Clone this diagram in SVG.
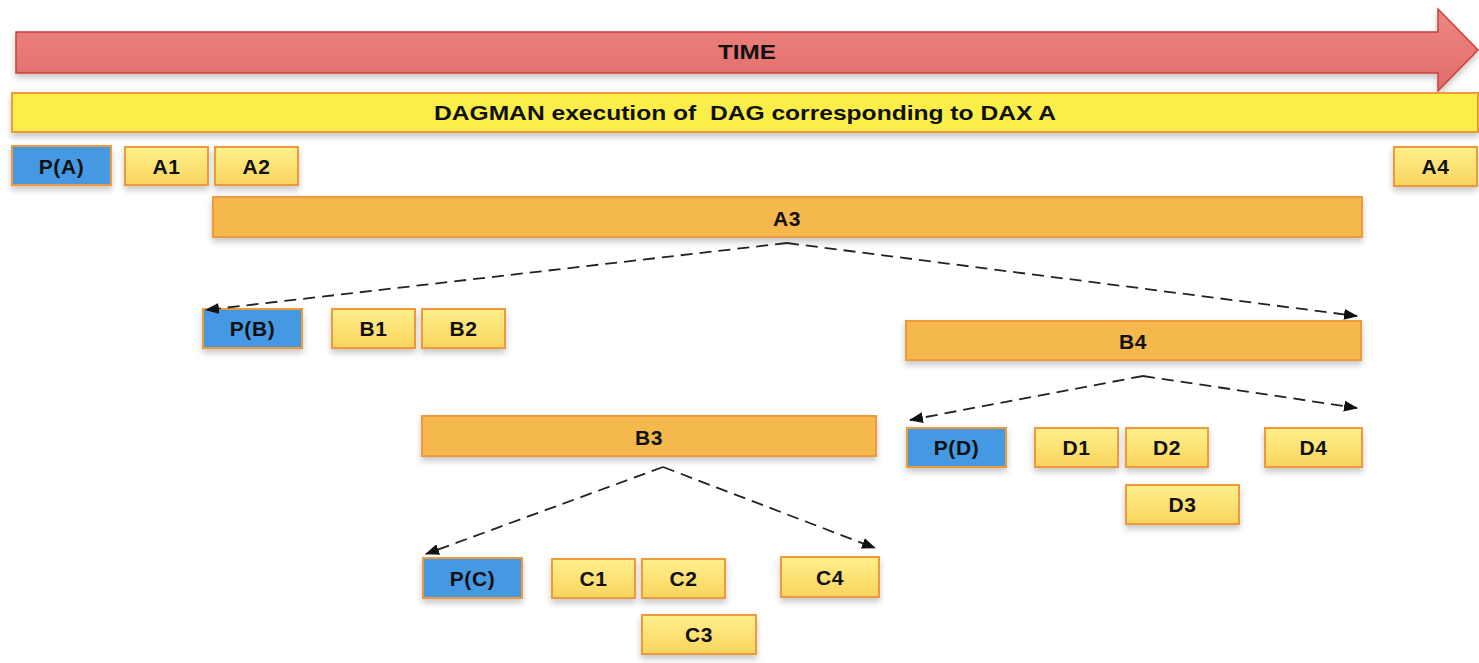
<svg xmlns="http://www.w3.org/2000/svg" width="1479" height="663" viewBox="0 0 1479 663">
  <defs>
    <linearGradient id="gTask" x1="0" y1="0" x2="0" y2="1">
      <stop offset="0" stop-color="#FFF08C"/>
      <stop offset="1" stop-color="#F9D45E"/>
    </linearGradient>
    <linearGradient id="gTime" x1="0" y1="0" x2="0" y2="1">
      <stop offset="0" stop-color="#EE8682"/>
      <stop offset="1" stop-color="#E06C68"/>
    </linearGradient>
    <filter id="shadow" x="-10%" y="-30%" width="120%" height="180%">
      <feDropShadow dx="0" dy="4" stdDeviation="3" flood-color="#000" flood-opacity="0.22"/>
    </filter>
    <marker id="arrow" markerWidth="14" markerHeight="11" refX="13" refY="5.5" orient="auto" markerUnits="userSpaceOnUse">
      <path d="M0,0 L14,5.5 L0,11 Z" fill="#111"/>
    </marker>
    <style>
      .lbl { font-family: "Liberation Sans", Arial, sans-serif; font-weight: bold; font-size: 21px; letter-spacing: 0.6px; fill: #111; text-anchor: middle; dominant-baseline: central; }
      .head { letter-spacing: 0; white-space: pre; }
      .task { fill: url(#gTask); stroke: #EE9A3A; stroke-width: 2; filter: url(#shadow); }
      .comp { fill: #F4B84E; stroke: #EE9A3A; stroke-width: 2; filter: url(#shadow); }
      .plan { fill: #4598E2; stroke: #EE9A3A; stroke-width: 2; filter: url(#shadow); }
      .edge { fill: none; stroke: #222; stroke-width: 1.8; stroke-dasharray: 12 7; marker-end: url(#arrow); }
    </style>
  </defs>
  <rect width="1479" height="663" fill="#fff"/>

  <!-- time axis -->
  <g id="time">
    <path d="M16,32 L1438,32 L1438,9 L1478,50 L1438,91 L1438,73 L16,73 Z" fill="url(#gTime)" stroke="#CC4038" stroke-width="1.5" filter="url(#shadow)"/>
    <text class="lbl head" x="747" y="51" textLength="58" lengthAdjust="spacingAndGlyphs">TIME</text>
  </g>

  <!-- top-level DAGMAN run -->
  <g id="dagman">
    <rect x="12" y="93" width="1466" height="39" fill="#FCEE48" stroke="#EE9A3A" stroke-width="2" filter="url(#shadow)"/>
    <text class="lbl head" x="745" y="112" textLength="622" lengthAdjust="spacingAndGlyphs" xml:space="preserve">DAGMAN execution of  DAG corresponding to DAX A</text>
  </g>

  <!-- workflow A -->
  <g id="PA"><rect class="plan" x="12" y="146" width="99" height="39"/><text class="lbl" x="61.5" y="166">P(A)</text></g>
  <g id="A1"><rect class="task" x="125" y="147" width="83" height="38"/><text class="lbl" x="166.5" y="166">A1</text></g>
  <g id="A2"><rect class="task" x="215" y="147" width="83" height="38"/><text class="lbl" x="256.5" y="166">A2</text></g>
  <g id="A4"><rect class="task" x="1394" y="147" width="83" height="39"/><text class="lbl" x="1435.5" y="166">A4</text></g>
  <g id="A3"><rect class="comp" x="213" y="197" width="1149" height="40"/><text class="lbl" x="787" y="218">A3</text></g>

  <!-- workflow B -->
  <g id="PB"><rect class="plan" x="203" y="309" width="99" height="39"/><text class="lbl" x="252.5" y="328">P(B)</text></g>
  <g id="B1"><rect class="task" x="332" y="309" width="83" height="39"/><text class="lbl" x="373.5" y="328">B1</text></g>
  <g id="B2"><rect class="task" x="422" y="309" width="83" height="39"/><text class="lbl" x="463.5" y="328">B2</text></g>
  <g id="B4"><rect class="comp" x="906" y="321" width="455" height="39"/><text class="lbl" x="1133" y="341">B4</text></g>
  <g id="B3"><rect class="comp" x="422" y="416" width="454" height="40"/><text class="lbl" x="649" y="437">B3</text></g>

  <!-- workflow D -->
  <g id="PD"><rect class="plan" x="907" y="428" width="99" height="39"/><text class="lbl" x="956.5" y="447">P(D)</text></g>
  <g id="D1"><rect class="task" x="1035" y="428" width="83" height="39"/><text class="lbl" x="1076.5" y="447">D1</text></g>
  <g id="D2"><rect class="task" x="1126" y="428" width="82" height="39"/><text class="lbl" x="1167" y="447">D2</text></g>
  <g id="D4"><rect class="task" x="1265" y="428" width="97" height="39"/><text class="lbl" x="1313.5" y="447">D4</text></g>
  <g id="D3"><rect class="task" x="1126" y="485" width="113" height="39"/><text class="lbl" x="1182.5" y="504">D3</text></g>

  <!-- workflow C -->
  <g id="PC"><rect class="plan" x="423" y="558" width="99" height="40"/><text class="lbl" x="472.5" y="578">P(C)</text></g>
  <g id="C1"><rect class="task" x="552" y="559" width="83" height="39"/><text class="lbl" x="593.5" y="578">C1</text></g>
  <g id="C2"><rect class="task" x="642" y="559" width="83" height="39"/><text class="lbl" x="683.5" y="578">C2</text></g>
  <g id="C4"><rect class="task" x="781" y="557" width="98" height="40"/><text class="lbl" x="830" y="577">C4</text></g>
  <g id="C3"><rect class="task" x="642" y="615" width="114" height="39"/><text class="lbl" x="699" y="634">C3</text></g>

  <!-- sub-workflow expansion connectors -->
  <g id="connectors">
    <path class="edge" d="M787,243 L206,310"/>
    <path class="edge" d="M787,243 L1357,316"/>
    <path class="edge" d="M1143,376 L910,420"/>
    <path class="edge" d="M1143,376 L1357,408"/>
    <path class="edge" d="M663,467 L426,554"/>
    <path class="edge" d="M663,467 L875,548"/>
  </g>
</svg>
